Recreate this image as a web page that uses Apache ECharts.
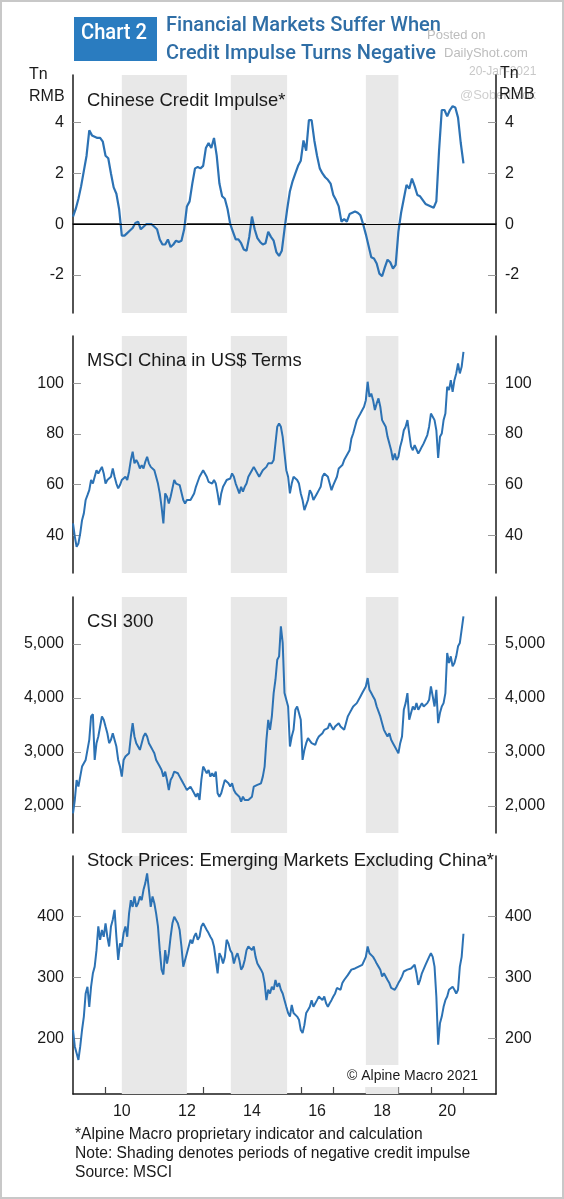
<!DOCTYPE html>
<html><head><meta charset="utf-8">
<script src="https://cdn.jsdelivr.net/npm/echarts@6/dist/echarts.min.js"></script>
<style>html,body{margin:0;padding:0;background:#fff}#c{width:564px;height:1199px}</style>
</head><body><div id="c"></div>
<script>
const startYear = 2009;
// Credit impulse: monthly, Jan 2009 .. Jan 2021
const creditImpulse = [
 0.3,0.6,1.0,1.5,2.1,2.7,3.7,3.5,3.45,3.4,3.4,3.25,
 2.7,2.6,2.0,1.45,1.2,0.6,-0.45,-0.45,-0.35,-0.25,-0.15,0.05,
 0.1,-0.2,-0.1,0.0,0.0,0.0,-0.1,-0.2,-0.6,-0.8,-0.8,-0.6,
 -0.9,-0.8,-0.65,-0.7,-0.65,-0.2,0.7,0.9,1.6,2.2,2.25,2.2,
 2.3,3.0,3.2,3.0,3.4,2.7,1.6,1.1,1.0,0.6,0.0,-0.3,
 -0.6,-0.6,-0.75,-1.0,-1.05,-0.5,0.3,-0.2,-0.55,-0.7,-0.8,-0.75,
 -0.3,-0.5,-0.65,-1.1,-1.25,-1.05,-0.2,0.6,1.3,1.7,2.0,2.3,
 2.5,3.3,2.9,4.1,4.1,3.3,2.7,2.2,2.0,1.85,1.75,1.6,
 1.15,0.95,0.7,0.1,0.2,0.1,0.4,0.45,0.5,0.45,0.35,0.0,
 -0.4,-0.85,-1.3,-1.35,-1.55,-1.95,-2.05,-1.7,-1.4,-1.5,-1.75,-1.6,
 -0.3,0.45,1.0,1.55,1.4,1.8,1.5,1.15,1.1,0.95,0.8,0.75,
 0.7,0.65,0.9,2.9,4.5,4.5,4.25,4.5,4.65,4.6,4.2,3.2,
 2.4];
// Market series: 18 observations per year (about every 20 days), 2009.0 .. 2021.0
const msciChina = [
 44.6,39.4,35.4,36.7,40.7,45.9,48.6,53.9,55.8,57.8,61.8,60.4,
 63.1,65.7,64.4,65.1,67.0,64.4,60.4,61.8,62.4,63.1,66.4,63.1,
 60.4,58.5,59.8,61.8,61.8,63.1,61.8,65.1,69.7,73.0,68.4,69.7,
 68.4,66.4,67.7,66.4,69.0,71.0,68.4,67.0,67.0,65.7,65.1,60.4,
 56.5,51.2,44.6,56.5,55.2,52.5,55.2,58.5,61.8,60.4,60.4,59.8,
 59.1,53.9,52.5,53.9,53.2,53.9,55.2,56.5,59.1,61.1,63.1,64.4,
 65.7,64.4,63.1,61.1,60.4,60.4,61.8,60.4,56.5,51.9,56.5,59.1,
 60.4,61.8,62.0,62.4,64.4,63.1,60.4,58.5,56.5,59.1,57.2,59.1,
 60.4,63.1,64.4,65.7,67.0,67.7,64.4,63.1,63.7,65.7,65.7,67.0,
 68.4,69.0,68.4,69.7,69.7,82.9,84.2,82.9,78.9,72.3,65.7,63.1,
 56.5,60.4,63.1,63.1,61.8,60.4,56.5,53.9,49.9,49.2,53.9,57.8,
 56.5,53.9,53.9,56.5,57.8,59.1,63.1,64.4,64.4,63.1,60.4,57.8,
 59.8,60.4,63.1,66.4,67.0,67.7,69.7,71.0,72.3,73.6,78.2,80.2,
 82.9,85.5,85.5,88.1,88.8,90.8,93.4,100.7,94.7,96.0,93.4,89.5,
 92.1,94.1,90.8,85.5,84.2,82.9,78.9,76.3,73.6,69.7,72.3,69.7,
 71.0,75.0,77.6,81.5,82.9,85.5,80.2,75.0,73.6,75.6,75.0,72.3,
 73.6,75.0,76.3,76.9,79.6,82.9,88.1,86.8,85.5,81.5,70.5,78.9,
 80.2,85.5,88.1,98.7,97.4,101.3,96.7,101.3,104.0,107.9,104.0,106.6,
 112.5];
const csi300 = [
 1864,2111,2482,2359,2544,2730,2761,2853,3039,3225,3658,3700,
 2853,3163,3287,3472,3658,3596,3472,3348,3163,3225,3348,3379,
 3101,2853,2730,2544,2853,2915,2946,2977,3287,3534,3287,3163,
 3101,3039,3163,3287,3348,3287,3163,3101,3039,2977,2853,2792,
 2730,2668,2544,2637,2482,2297,2482,2544,2637,2668,2606,2544,
 2482,2420,2359,2297,2297,2359,2328,2235,2173,2235,2111,2482,
 2730,2761,2606,2668,2544,2606,2544,2637,2235,2173,2235,2359,
 2482,2482,2420,2359,2420,2297,2235,2235,2173,2080,2173,2111,
 2142,2111,2111,2173,2359,2359,2390,2359,2420,2544,2730,3225,
 3596,3410,3658,4091,4338,4709,4771,5328,5019,4091,4091,3843,
 3101,3287,3410,3781,3843,3720,3596,2853,3039,3163,3256,3225,
 3163,3194,3132,3225,3287,3256,3348,3410,3410,3441,3534,3472,
 3410,3472,3472,3534,3472,3472,3410,3534,3658,3720,3781,3843,
 3843,3905,3936,4029,4091,4060,4214,4369,4152,4091,4029,3967,
 3843,3812,3658,3534,3410,3348,3287,3348,3225,3163,3101,3039,
 2977,3163,3287,3781,3905,4091,3596,3720,3843,3781,3905,3781,
 3843,3905,3843,3874,3905,3967,4214,4029,3843,4152,3534,3720,
 3843,3905,4091,4833,4647,4771,4586,4647,4771,4957,5019,5049,
 5513];
const emExChina = [
 214,187,176,165,187,214,236,274,285,252,285,307,
 318,345,384,362,378,367,389,367,351,384,395,411,
 367,329,356,351,373,384,367,405,427,416,433,416,
 422,433,427,444,455,471,444,416,433,422,405,384,
 345,313,305,345,323,340,367,389,400,403,389,378,
 351,318,329,340,351,362,356,367,373,362,367,384,
 389,392,378,373,367,362,351,329,307,340,334,323,
 334,362,356,345,340,323,334,340,329,313,318,329,
 345,351,351,345,351,334,323,318,313,307,291,263,
 280,274,285,280,296,285,291,280,274,263,252,242,
 236,255,242,242,236,231,214,209,222,242,247,252,
 263,252,252,263,269,272,263,269,258,252,258,263,
 269,274,283,285,280,291,296,299,304,307,313,315,
 315,318,318,321,321,323,334,351,340,337,334,329,
 323,318,313,302,307,304,296,291,283,285,280,285,
 291,296,302,310,310,313,315,315,318,321,307,288,
 296,307,310,321,323,334,340,334,318,269,190,225,
 236,252,263,269,280,283,285,280,274,280,318,334,
 372];
// Periods of negative credit impulse (decimal years)
const shadedPeriods = [[2010.5, 2012.5], [2013.85, 2015.58], [2018.0, 2019.0]];
const xTickYears = [2010,2011,2012,2013,2014,2015,2016,2017,2018,2019,2020,2021];
const xLabelYears = [2010,2012,2014,2016,2018,2020];
const yTicks = [[-2,0,2,4],[40,60,80,100],[2000,3000,4000,5000],[200,300,400]];
const yRanges = [[-3.5,5.88],[25,118.8],[1500,5870],[109,499.5]];
const panelTitles = ['Chinese Credit Impulse*','MSCI China in US$ Terms','CSI 300','Stock Prices: Emerging Markets Excluding China*'];
const footnotes = ['*Alpine Macro proprietary indicator and calculation','Note: Shading denotes periods of negative credit impulse','Source: MSCI'];

const toPairs = (arr, perYear) => arr.map((v,i)=>[startYear + i/perYear, v]);
const seriesData = [toPairs(creditImpulse,12), toPairs(msciChina,18), toPairs(csi300,18), toPairs(emExChina,18)];

const LINE = '#2c72b4', SHADE = '#e8e8e8', AX = '#1a1a1a', TXT = '#1a1a1a';
const FONT = '"Liberation Sans", Arial, sans-serif';
const grids = [
  {left:73, width:423, top:75, height:238},
  {left:73, width:423, top:336, height:237},
  {left:73, width:423, top:597, height:236},
  {left:73, width:423, top:856, height:238}
];
const comma = v => String(v).replace(/\B(?=(\d{3})+(?!\d))/g, ',');

const xAxes = grids.map((g,i)=>{
  const base = {type:'value', gridIndex:i, min:2009, max:2022, splitLine:{show:false}};
  if (i===0) return Object.assign(base,{position:'top', axisLine:{show:true,lineStyle:{color:AX,width:1.5}}, axisTick:{show:false}, axisLabel:{show:false}});
  if (i===3) return Object.assign(base,{position:'bottom', axisLine:{show:true,lineStyle:{color:AX,width:1.5}},
     axisTick:{show:true,inside:true,length:7,lineStyle:{color:'#444',width:1.2},customValues:xTickYears},
     axisLabel:{show:true,customValues:xLabelYears.map(y=>y+0.5),formatter:v=>String(Math.floor(v)%100),fontSize:16,fontFamily:FONT,color:TXT,margin:10}});
  return Object.assign(base,{show:false});
});
const yAxes = [];
grids.forEach((g,i)=>{
  ['left','right'].forEach(pos=>{
    yAxes.push({type:'value', gridIndex:i, position:pos, min:yRanges[i][0], max:yRanges[i][1],
      axisLine:{show:true,lineStyle:{color:AX,width:1.5}},
      axisTick:{show:true,inside:true,length:8,lineStyle:{color:'#999',width:1},customValues:yTicks[i]},
      axisLabel:{show:true,customValues:yTicks[i],fontSize:16,fontFamily:FONT,color:TXT,margin:9,
        formatter: v => i===2 ? comma(v) : String(v)},
      splitLine:{show:false}});
  });
});
const series = seriesData.map((data,i)=>{
  const s = {type:'line', xAxisIndex:i, yAxisIndex:2*i, data:data, showSymbol:false, symbol:'none',
    lineStyle:{color:LINE,width:i===0?2.2:2}, z:3, animation:false,
    markArea:{silent:true, itemStyle:{color:SHADE}, data: shadedPeriods.map(p=>[{xAxis:p[0]},{xAxis:p[1]}])}};
  if (i===0) s.markLine = {silent:true, symbol:'none', label:{show:false}, lineStyle:{color:'#000',width:1,type:'solid'}, data:[{yAxis:0}]};
  return s;
});

const ctx = document.createElement('canvas').getContext('2d');
function fit(text, font, w){ ctx.font = font; return w / ctx.measureText(text).width; }
const TFONT = '500 21px Roboto';
const graphic = [
  {type:'rect', shape:{x:1,y:1,width:562,height:1197}, style:{fill:null, stroke:'#c8c8c8', lineWidth:2}, silent:true, z:100},
  {type:'rect', shape:{x:74,y:17,width:83,height:44}, style:{fill:'#2a7cc0'}, silent:true},
  {type:'text', x:114, y:33, scaleX:fit('Chart 2','500 22px Roboto',66), style:{text:'Chart 2', font:'500 22px Roboto', fill:'#fff', textAlign:'center', textVerticalAlign:'middle'}},
  {type:'text', x:166, y:26, scaleX:fit('Financial Markets Suffer When',TFONT,275), style:{text:'Financial Markets Suffer When', font:TFONT, fill:'#2f6ea6', textAlign:'left', textVerticalAlign:'middle'}},
  {type:'text', x:166, y:54, scaleX:fit('Credit Impulse Turns Negative',TFONT,270), style:{text:'Credit Impulse Turns Negative', font:TFONT, fill:'#2f6ea6', textAlign:'left', textVerticalAlign:'middle'}},
  {type:'text', x:427, y:35, style:{text:'Posted on', font:'13px '+FONT, fill:'#bdbdbd', textVerticalAlign:'middle'}},
  {type:'text', x:444, y:53, style:{text:'DailyShot.com', font:'13px '+FONT, fill:'#bdbdbd', textVerticalAlign:'middle'}},
  {type:'text', x:469, y:72, style:{text:'20-Jan-2021', font:'12px '+FONT, fill:'#c8c8c8', textVerticalAlign:'middle'}},
  {type:'text', x:460, y:95, style:{text:'@SoberLook', font:'13px '+FONT, fill:'#cfcfcf', textVerticalAlign:'middle'}},
  {type:'text', x:29, y:75, style:{text:'Tn', font:'16px '+FONT, fill:TXT, textVerticalAlign:'middle'}, z:50},
  {type:'text', x:29, y:97, style:{text:'RMB', font:'16px '+FONT, fill:TXT, textVerticalAlign:'middle'}, z:50},
  {type:'text', x:500, y:74, style:{text:'Tn', font:'16px '+FONT, fill:TXT, textVerticalAlign:'middle'}, z:50},
  {type:'text', x:499, y:95, style:{text:'RMB', font:'16px '+FONT, fill:TXT, textVerticalAlign:'middle'}, z:50},
  {type:'text', x:481, y:1076, z:60, style:{text:'© Alpine Macro 2021', font:'14px '+FONT, fill:TXT, textAlign:'right', textVerticalAlign:'middle', backgroundColor:'#fff', padding:[4,3,4,6]}}
];
const titleY = [101, 361, 622, 861];
panelTitles.forEach((t,i)=>graphic.push({type:'text', x:87, y:titleY[i], z:50, style:{text:t, font:'18.4px '+FONT, fill:TXT, textVerticalAlign:'middle'}}));
const footY = [1135, 1154, 1173];
footnotes.forEach((t,i)=>graphic.push({type:'text', x:75, y:footY[i], style:{text:t, font:'15.6px '+FONT, fill:TXT, textVerticalAlign:'middle'}}));

const chart = echarts.init(document.getElementById('c'), null, {renderer:'canvas'});
chart.setOption({animation:false, backgroundColor:'#fff', grid:grids, xAxis:xAxes, yAxis:yAxes, series:series, graphic:graphic});
</script></body></html>
